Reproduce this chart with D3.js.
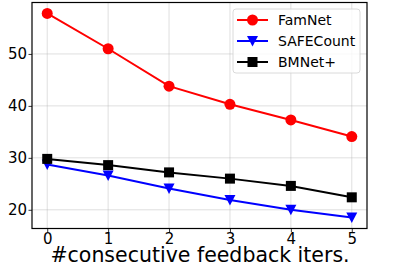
<!DOCTYPE html>
<html><head><meta charset="utf-8">
<script src="https://cdn.jsdelivr.net/npm/d3@7"></script>
<style>body{margin:0;background:#fff}svg{display:block;font-family:"DejaVu Sans",sans-serif}</style>
</head><body><svg id="c" width="399" height="266"></svg>
<script>
const iters = [0, 1, 2, 3, 4, 5];
const famnet = [57.8, 51.0, 43.8, 40.3, 37.3, 34.1];
const safecount = [28.7, 26.6, 24.1, 21.9, 20.0, 18.5];
const bmnet = [29.8, 28.6, 27.2, 26.0, 24.6, 22.4];
const yTicks = [20, 30, 40, 50];
const seriesNames = ["FamNet", "SAFECount", "BMNet+"];
const seriesColors = ["#ff0000", "#0000ff", "#000000"];
const seriesMarkers = ["circle", "triangle", "square"];
const xLabel = "#consecutive feedback iters.";

const svg = d3.select("#c");
const L = 32, R = 367, T = 2.5, B = 228.5;
const x = d3.scaleLinear().domain([-0.25, 5.25]).range([L, R]);
const y = d3.scaleLinear().domain([16.4, 59.9]).range([B, T]);

// grid
svg.append("g").selectAll("line").data(iters).join("line")
  .attr("x1", d => x(d)).attr("x2", d => x(d)).attr("y1", T).attr("y2", B)
  .attr("stroke", "#b0b0b0").attr("stroke-opacity", 0.5).attr("stroke-width", 0.8);
svg.append("g").selectAll("line").data(yTicks).join("line")
  .attr("x1", L).attr("x2", R).attr("y1", d => y(d)).attr("y2", d => y(d))
  .attr("stroke", "#b0b0b0").attr("stroke-opacity", 0.5).attr("stroke-width", 0.8);

// axes
const xAxis = d3.axisBottom(x).tickValues(iters).tickSize(3.5).tickPadding(1.5).tickFormat(d3.format("d"));
const gx = svg.append("g").attr("transform", `translate(0,${B})`).call(xAxis);
gx.select(".domain").remove();
gx.selectAll(".tick line").attr("stroke", "#000").attr("stroke-width", 0.8);
gx.selectAll("text").attr("font-size", 15).attr("fill", "#000").attr("font-family", "DejaVu Sans");
const yAxis = d3.axisLeft(y).tickValues(yTicks).tickSize(3.5).tickPadding(1.5);
const gy = svg.append("g").attr("transform", `translate(${L},0)`).call(yAxis);
gy.select(".domain").remove();
gy.selectAll(".tick line").attr("stroke", "#000").attr("stroke-width", 0.8);
gy.selectAll("text").attr("font-size", 15).attr("fill", "#000").attr("font-family", "DejaVu Sans");

const data = [famnet, safecount, bmnet];
const line = d3.line().x((d, i) => x(iters[i])).y(d => y(d));

function marker(g, type, cx, cy, color) {
  if (type === "circle") g.append("circle").attr("cx", cx).attr("cy", cy).attr("r", 5.5).attr("fill", color);
  else if (type === "square") g.append("rect").attr("x", cx - 5).attr("y", cy - 5).attr("width", 10).attr("height", 10).attr("fill", color);
  else g.append("path").attr("d", `M${cx - 5.5},${cy - 5}L${cx + 5.5},${cy - 5}L${cx},${cy + 5.5}Z`).attr("fill", color);
}

const plot = svg.append("g");
data.forEach((vals, si) => {
  plot.append("path").datum(vals).attr("d", line).attr("fill", "none")
    .attr("stroke", seriesColors[si]).attr("stroke-width", 2);
  vals.forEach((v, i) => marker(plot, seriesMarkers[si], x(iters[i]), y(v), seriesColors[si]));
});

// frame
svg.append("rect").attr("x", L).attr("y", T).attr("width", R - L).attr("height", B - T)
  .attr("fill", "none").attr("stroke", "#000").attr("stroke-width", 1.2);

// legend
const lg = svg.append("g");
lg.append("rect").attr("x", 233).attr("y", 9).attr("width", 127).attr("height", 64).attr("rx", 3)
  .attr("fill", "#fff").attr("fill-opacity", 0.8).attr("stroke", "#d0d0d0").attr("stroke-width", 0.8);
seriesNames.forEach((n, i) => {
  const yy = 20 + i * 21;
  lg.append("line").attr("x1", 237).attr("x2", 268).attr("y1", yy).attr("y2", yy)
    .attr("stroke", seriesColors[i]).attr("stroke-width", 2);
  marker(lg, seriesMarkers[i], 252.5, yy, seriesColors[i]);
  lg.append("text").attr("x", 278).attr("y", yy + 5).attr("font-size", 14).text(n);
});

// x label
svg.append("text").attr("x", 200).attr("y", 262).attr("text-anchor", "middle")
  .attr("font-size", 20.5).text(xLabel);
</script></body></html>
